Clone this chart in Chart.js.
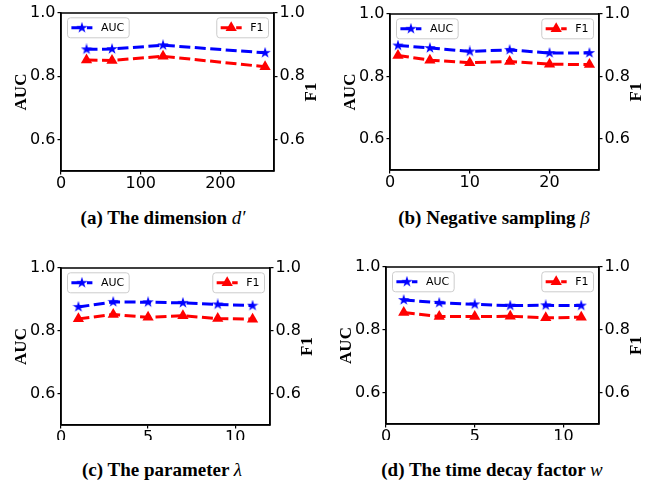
<!DOCTYPE html>
<html><head><meta charset="utf-8">
<script src="https://cdn.jsdelivr.net/npm/chart.js@4/dist/chart.umd.min.js"></script>
<style>
body{margin:0;background:#fff;width:651px;height:482px;position:relative;overflow:hidden}
canvas{position:absolute}
.cap{position:absolute;font-family:'Liberation Serif','Times New Roman',serif;font-weight:bold;font-size:19px;white-space:nowrap;transform:translate(-50%,-50%);color:#000;line-height:1}
.cap i{font-weight:normal}
</style></head>
<body>
<canvas id="cA" width="325" height="200" style="left:0;top:0"></canvas>
<canvas id="cB" width="326" height="200" style="left:325px;top:0"></canvas>
<canvas id="cC" width="325" height="200" style="left:0;top:240px"></canvas>
<canvas id="cD" width="326" height="200" style="left:325px;top:240px"></canvas>
<div class="cap" style="left:163px;top:217px">(a) The dimension <i>d′</i></div>
<div class="cap" style="left:494px;top:217px">(b) Negative sampling <i>β</i></div>
<div class="cap" style="left:162px;top:469px">(c) The parameter <i>λ</i></div>
<div class="cap" style="left:492px;top:469px">(d) The time decay factor <i>w</i></div>
<script>
// ---- data ----
const xA = [32, 64, 128, 256];
const aucA = [0.885, 0.886, 0.898, 0.874];
const f1A = [0.851, 0.850, 0.863, 0.830];
const xB = [1, 5, 10, 15, 20, 25];
const aucB = [0.899, 0.891, 0.880, 0.885, 0.875, 0.875];
const f1B = [0.867, 0.852, 0.844, 0.848, 0.839, 0.838];
const xC = [1, 3, 5, 7, 9, 11];
const aucC = [0.876, 0.892, 0.891, 0.889, 0.884, 0.880];
const f1C = [0.838, 0.852, 0.843, 0.848, 0.839, 0.837];
const xD = [1, 3, 5, 7, 9, 11];
const aucD = [0.895, 0.886, 0.881, 0.877, 0.878, 0.877];
const f1D = [0.855, 0.842, 0.842, 0.843, 0.838, 0.840];
const xTicksA = [0, 100, 200];
const xTicksB = [0, 10, 20];
const xTicksC = [0, 5, 10];
const xTicksD = [0, 5, 10];
const yTicks = [0.6, 0.8, 1.0];
const seriesNames = ['AUC', 'F1'];

// ---- styles ----
const BLUE = '#0000ff', RED = '#ff0000';
const tickFont = {family: "'DejaVu Sans', sans-serif", size: 16};
const DASH = [11, 4.5];

// filled 5-point star marker
function makeStar(size, color) {
  const c = document.createElement('canvas');
  c.width = size; c.height = size;
  const g = c.getContext('2d');
  const cx = size / 2, cy = size / 2, ro = size / 2, ri = ro * 0.382;
  g.beginPath();
  for (let i = 0; i < 10; i++) {
    const r = i % 2 === 0 ? ro : ri;
    const a = -Math.PI / 2 + i * Math.PI / 5;
    const px = cx + r * Math.cos(a), py = cy + r * Math.sin(a);
    if (i === 0) g.moveTo(px, py); else g.lineTo(px, py);
  }
  g.closePath();
  g.fillStyle = color; g.fill();
  return c;
}
const starImg = makeStar(12, BLUE);

function drawTri(ctx, x, y, r, color) {
  ctx.beginPath();
  let rad = 0;
  for (let i = 0; i < 3; i++) {
    const px = x + Math.sin(rad) * r, py = y - Math.cos(rad) * r;
    if (i === 0) ctx.moveTo(px, py); else ctx.lineTo(px, py);
    rad += 2 * Math.PI / 3;
  }
  ctx.closePath();
  ctx.fillStyle = color; ctx.fill();
}

function roundRect(ctx, x, y, w, h, r) {
  ctx.beginPath();
  ctx.moveTo(x + r, y); ctx.lineTo(x + w - r, y); ctx.arcTo(x + w, y, x + w, y + r, r);
  ctx.lineTo(x + w, y + h - r); ctx.arcTo(x + w, y + h, x + w - r, y + h, r);
  ctx.lineTo(x + r, y + h); ctx.arcTo(x, y + h, x, y + h - r, r);
  ctx.lineTo(x, y + r); ctx.arcTo(x, y, x + r, y, r);
  ctx.closePath();
}

const decorPlugin = {
  id: 'decor',
  afterDraw(chart) {
    const ctx = chart.ctx, a = chart.chartArea;
    ctx.save();
    // frame
    ctx.strokeStyle = '#000'; ctx.lineWidth = 1.5; ctx.setLineDash([]);
    ctx.strokeRect(a.left, a.top, a.right - a.left, a.bottom - a.top);
    // axis titles
    ctx.fillStyle = '#000';
    ctx.font = "bold 17px 'Liberation Serif', 'Times New Roman', serif";
    ctx.textAlign = 'center'; ctx.textBaseline = 'middle';
    const cy = (a.top + a.bottom) / 2;
    [[a.left - 39, seriesNames[0]], [a.right + 38, seriesNames[1]]].forEach(([x, t]) => {
      ctx.save(); ctx.translate(x, cy); ctx.rotate(-Math.PI / 2); ctx.fillText(t, 0, 0); ctx.restore();
    });
    // legends
    ctx.font = "11px 'DejaVu Sans', sans-serif";
    const pad = 4.4, hl = 21, gap = 8.6, bh = 20;
    chart.data.datasets.forEach((ds, i) => {
      const tw = ctx.measureText(ds.label).width;
      const bw = pad + hl + gap + tw + pad;
      const bx = i === 0 ? a.left + 6 : a.right - 6 - bw;
      const by = a.top + 4.3;
      roundRect(ctx, bx + 0.5, by + 0.5, bw, bh, 3);
      ctx.fillStyle = 'rgba(255,255,255,0.8)'; ctx.fill();
      ctx.strokeStyle = '#cccccc'; ctx.lineWidth = 1; ctx.stroke();
      const ly = by + bh / 2 + 0.5;
      ctx.beginPath(); ctx.setLineDash(DASH);
      ctx.moveTo(bx + pad, ly); ctx.lineTo(bx + pad + hl, ly);
      ctx.strokeStyle = ds.borderColor; ctx.lineWidth = 3; ctx.stroke();
      ctx.setLineDash([]);
      const mx = bx + pad + hl / 2;
      if (i === 0) ctx.drawImage(starImg, mx - starImg.width / 2, ly - starImg.height / 2);
      else drawTri(ctx, mx, ly, 6.5, RED);
      ctx.fillStyle = '#000'; ctx.textAlign = 'left'; ctx.textBaseline = 'middle';
      ctx.fillText(ds.label, bx + pad + hl + gap, ly);
    });
    ctx.restore();
  }
};

function makeChart(id, xs, auc, f1, xTicks, xMax, area) {
  const canvas = document.getElementById(id);
  const W = canvas.width, H = canvas.height;
  const axisCommon = {
    grid: {drawOnChartArea: false, drawTicks: true, tickLength: 3.5, color: '#000', lineWidth: 1.2},
    border: {display: true, color: '#000', width: 1.5},
  };
  return new Chart(canvas, {
    type: 'line',
    data: {
      datasets: [
        {label: seriesNames[0], data: xs.map((x, i) => ({x: x, y: auc[i]})), yAxisID: 'y',
         borderColor: BLUE, backgroundColor: BLUE, borderWidth: 3, borderDash: DASH,
         pointStyle: starImg, pointRadius: 6, pointHoverRadius: 6, order: 2, fill: false, tension: 0},
        {label: seriesNames[1], data: xs.map((x, i) => ({x: x, y: f1[i]})), yAxisID: 'y1',
         borderColor: RED, backgroundColor: RED, borderWidth: 3, borderDash: DASH,
         pointStyle: 'triangle', pointRadius: 6.5, pointHoverRadius: 6.5, pointBorderWidth: 0,
         order: 1, fill: false, tension: 0}
      ]
    },
    options: {
      responsive: false, animation: false, events: [],
      layout: {padding: {top: area.top, left: 0, right: 0, bottom: 0}},
      plugins: {legend: {display: false}, tooltip: {enabled: false}},
      scales: {
        x: Object.assign({type: 'linear', min: 0, max: xMax,
          afterFit(s) { s.height = H - area.bottom; },
          afterBuildTicks(s) { s.ticks = xTicks.map(v => ({value: v})); },
          ticks: {font: tickFont, color: '#000', padding: 0, maxRotation: 0, callback: v => String(v)}
        }, axisCommon),
        y: Object.assign({type: 'linear', position: 'left', min: 0.5, max: 1.0,
          afterFit(s) { s.width = area.left; },
          afterBuildTicks(s) { s.ticks = yTicks.map(v => ({value: v})); },
          ticks: {font: tickFont, color: '#000', padding: 2, callback: v => Number(v).toFixed(1)}
        }, axisCommon),
        y1: Object.assign({type: 'linear', position: 'right', min: 0.5, max: 1.0,
          afterFit(s) { s.width = W - area.right; },
          afterBuildTicks(s) { s.ticks = yTicks.map(v => ({value: v})); },
          ticks: {font: tickFont, color: '#000', padding: 2, callback: v => Number(v).toFixed(1)}
        }, axisCommon)
      }
    },
    plugins: [decorPlugin]
  });
}

makeChart('cA', xA, aucA, f1A, xTicksA, 267.2, {left: 61, right: 274, top: 13, bottom: 171});
makeChart('cB', xB, aucB, f1B, xTicksB, 26.2, {left: 65, right: 274, top: 14, bottom: 170});
makeChart('cC', xC, aucC, f1C, xTicksC, 12, {left: 61, right: 270, top: 28, bottom: 185});
makeChart('cD', xD, aucD, f1D, xTicksD, 12, {left: 61, right: 274, top: 27, bottom: 184});
</script>
</body></html>
